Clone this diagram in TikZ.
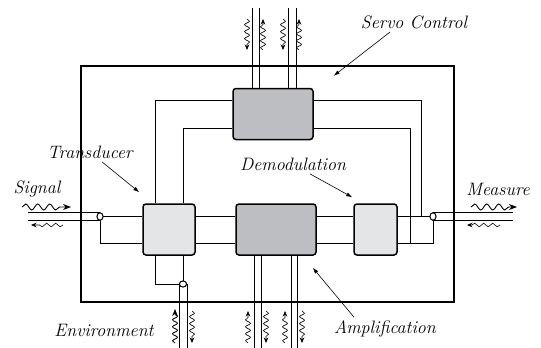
\documentclass[tikz,border=0pt]{standalone}
\usepackage{tikz}
\usetikzlibrary{shapes.geometric,decorations.pathmorphing,arrows.meta}
\definecolor{boxdark}{HTML}{BDBEC1}
\definecolor{boxlight}{HTML}{E4E5E7}

\begin{document}
\begin{tikzpicture}[x=1pt,y=-1pt,
    box/.style={draw,line width=1.5pt,rounded corners=3pt,minimum height=51pt,inner sep=0pt},
    wire/.style={line width=0.9pt},
    plug/.style={draw,ellipse,fill=white,line width=0.9pt,inner sep=0pt},
    wave/.style={decorate,decoration={snake,segment length=7pt,amplitude=2.5pt,post length=4pt},
        -{Stealth[length=5.5pt,width=4.5pt]},line width=0.6pt},
    bigwave/.style={wave,decoration={segment length=12pt,amplitude=3pt,post length=6pt},
        -{Stealth[length=8pt,width=6pt]},line width=0.9pt},
    smallwave/.style={wave,decoration={segment length=9pt,amplitude=1.8pt}},
    pointer/.style={-{Latex[length=6pt,width=4pt]},line width=0.6pt},
    lab/.style={font=\fontsize{18}{21}\selectfont\itshape}]
        \useasboundingbox (0,0) rectangle (541,348);
        \draw[line width=1.4pt] (81,66) rectangle (454,302);
        \draw
            (273,114) node[box,fill=boxdark,minimum width=80pt] (servo){}
            (169,229.5) node[box,fill=boxlight,minimum width=52pt] (trans){}
            (276,229.5) node[box,fill=boxdark,minimum width=80pt] (ampl){}
            (375.5,229.5) node[box,fill=boxlight,minimum width=43pt] (demod){}
            (100,216.5) node[plug,minimum width=6pt,minimum height=7.5pt] (sigplug){}
            (433,216.5) node[plug,minimum width=6pt,minimum height=7.5pt] (meaplug){}
            (183,284) node[plug,minimum width=7pt,minimum height=6pt] (envplug){};
        \coordinate (j1) at (421,216.5);
        \coordinate (j2) at (410,243);
        \coordinate (top) at (0,8);
        \coordinate (bot) at (0,348);
        \coordinate (sigin) at (28,0);
        \coordinate (meaout) at (513,0);
        % main lines
        \begin{scope}[wire]
            \draw (sigplug.east) -- (trans.west |- sigplug);
            \draw (trans.east |- sigplug) -- (ampl.west |- sigplug);
            \draw (ampl.east |- sigplug) -- (demod.west |- sigplug);
            \draw (demod.east |- sigplug) -- (meaplug.west);
            \draw (sigplug.south) |- (trans.west |- j2);
            \draw (trans.east |- j2) -- (ampl.west |- j2);
            \draw (ampl.east |- j2) -- (demod.west |- j2);
            \draw (demod.east |- j2) -| (meaplug.south);
            \draw (sigplug.north) -- (sigin |- sigplug.north);
            \draw (sigplug.south) -- (sigin |- sigplug.south);
            \draw (meaplug.north) -- (meaout |- meaplug.north);
            \draw (meaplug.south) -- (meaout |- meaplug.south);
            % servo loops
            \draw ([xshift=-14pt]trans.north) |- ([yshift=14pt]servo.west);
            \draw ([xshift=14pt]trans.north) |- ([yshift=-14pt]servo.west);
            \draw ([yshift=14pt]servo.east) -| (j1);
            \draw ([yshift=-14pt]servo.east) -| (j2);
            % environment
            \draw ([xshift=-14pt]trans.south) |- (envplug.west);
            \draw ([xshift=14pt]trans.south) -- (envplug.north);
            \draw (envplug.west) -- (envplug.west |- bot);
            \draw (envplug.east) -- (envplug.east |- bot);
            \foreach \dx in {-21,-14,15,23}
                \draw ([xshift=\dx pt]servo.north) -- ([xshift=\dx pt]servo.north |- top);
            \foreach \dx in {-22,-15,15,21}
                \draw ([xshift=\dx pt]ampl.south) -- ([xshift=\dx pt]ampl.south |- bot);
        \end{scope}
        \node[plug,minimum width=6pt,minimum height=7.5pt] at (sigplug) {};
        \node[plug,minimum width=6pt,minimum height=7.5pt] at (meaplug) {};
        \node[plug,minimum width=7pt,minimum height=6pt] at (envplug) {};
        % waves
        \draw[wave] (247,19) -- (247,50);
        \draw[wave] (263,50) -- (263,19);
        \draw[wave] (283,19) -- (283,50);
        \draw[wave] (299,50) -- (299,19);
        \draw[wave] (248,343) -- (248,311);
        \draw[wave] (266,311) -- (266,343);
        \draw[wave] (285,343) -- (285,311);
        \draw[wave] (302,311) -- (302,343);
        \draw[wave,-{Stealth[length=7pt,width=5.5pt]},line width=0.8pt] (175,343) -- (175,309);
        \draw[wave] (192,311) -- (192,343);
        \draw[bigwave] (22,207) -- (71,207);
        \draw[smallwave] (63,225) -- (31,225);
        \draw[bigwave] (471,207) -- (517,207);
        \draw[smallwave] (500,225) -- (467,225);
        % labels
        \node[lab] (lsig) at (37,189) {Signal};
        \node[lab] (ltrans) at (90,152) {Transducer};
        \node[lab] (lservo) at (414,22) {Servo Control};
        \node[lab] (ldemod) at (293,164) {Demodulation};
        \node[lab] (lmeas) at (498,189) {Measure};
        \node[lab] (lenv) at (104,330) {Environment};
        \node[lab] (lampl) at (385,329) {Amplification};
        \begin{scope}[pointer]
            \draw ([xshift=12pt]ltrans.south) -- ([shift={(-3pt,11pt)}]trans.north west);
            \draw ([xshift=-24pt]lservo.south) -- ([shift={(20pt,12pt)}]servo.north east);
            \draw ([xshift=17pt]ldemod.south) -- ([shift={(-1pt,6pt)}]demod.north west);
            \draw ([xshift=-31pt]lampl.north) -- ([shift={(-4pt,-12pt)}]ampl.south east);
        \end{scope}
\end{tikzpicture}
\end{document}
